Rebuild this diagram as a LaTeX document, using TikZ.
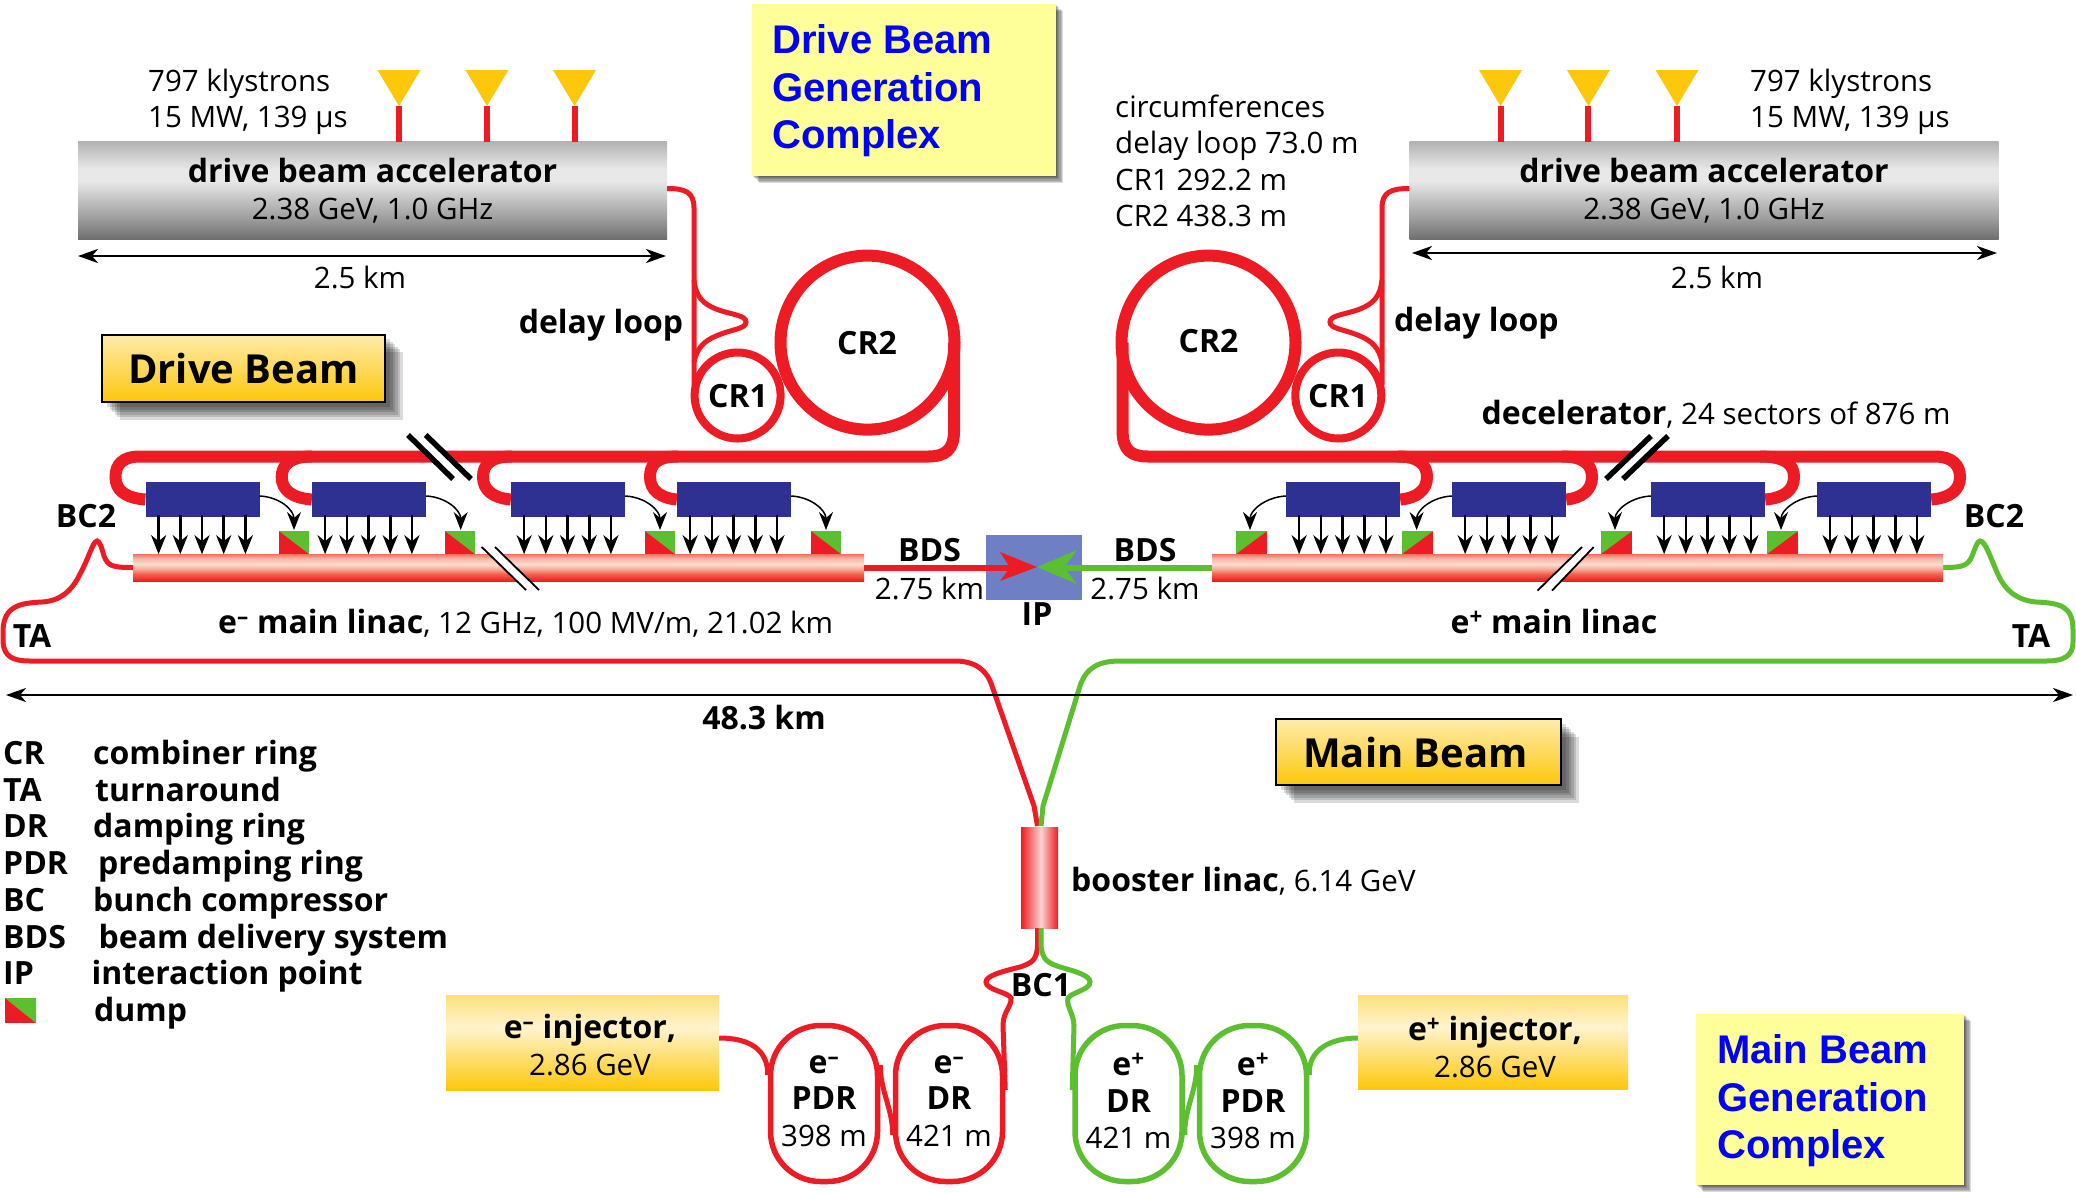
\documentclass[tikz,border=0pt]{standalone}
\usepackage{fontspec}
\setmainfont{Open Sans}
\newfontfamily\labelfont{Liberation Sans}
\usetikzlibrary{arrows.meta,calc}
\definecolor{rd}{HTML}{ED1C24}
\definecolor{gr}{HTML}{5BBF30}
\definecolor{blu}{HTML}{2E3192}
\definecolor{yel}{HTML}{FDC70C}
\definecolor{ipc}{HTML}{6F7FC4}
\definecolor{lab}{HTML}{FFFF99}
\definecolor{linA}{HTML}{F4715D}
\definecolor{linB}{HTML}{F9B4A5}
\definecolor{linC}{HTML}{FBDDD0}
\definecolor{linD}{HTML}{F8A898}
\definecolor{linE}{HTML}{F26050}
\pgfdeclareverticalshading{grayshade}{100bp}{color(0bp)=(black!57); color(25bp)=(black!57); color(36bp)=(black!38); color(55bp)=(black!9); color(61bp)=(black!9); color(75bp)=(black!30); color(100bp)=(black!30)}
\pgfdeclareverticalshading{linacshade}{100bp}{color(0bp)=(rd); color(25bp)=(rd); color(38bp)=(linE); color(47bp)=(linD); color(56bp)=(linC); color(67bp)=(linB); color(75bp)=(linA); color(100bp)=(linA)}
\pgfdeclareverticalshading{injshade}{100bp}{color(0bp)=(yel); color(25bp)=(yel); color(58bp)=(yel!20!white); color(75bp)=(yel!55!white); color(100bp)=(yel!55!white)}
\pgfdeclareverticalshading{tagshade}{100bp}{color(0bp)=(yel); color(25bp)=(yel); color(75bp)=(yel!35!white); color(100bp)=(yel!35!white)}
\pgfdeclarehorizontalshading{boostshade}{100bp}{color(0bp)=(rd); color(25bp)=(rd); color(52bp)=(rd!20!white); color(75bp)=(rd); color(100bp)=(rd)}
\newcommand\softshadow[6]{% x1 y1 x2 y2 offset spread
  \foreach \i in {0,...,5}{
    \fill[black,opacity=.14] ({#1+#5+\i*#6/5},{#2+#5+\i*#6/5}) rectangle ({#3+#5+\i*#6/5},{#4+#5+\i*#6/5});
  }}
\newcommand\eminus{e\textsuperscript{–}}
\newcommand\eplus{e\textsuperscript{+}}
\newcommand\regfont{\fontsize{29.5}{36.5}\selectfont}
\newcommand\boldfont{\fontsize{32}{37}\selectfont\bfseries}
\newcommand\lastline[1]{\raisebox{0pt}[\height][\dimexpr\depth+5pt\relax]{#1}}
\tikzset{
  thinred/.style={draw=rd,line width=5pt},
  thingreen/.style={draw=gr,line width=5pt},
  fatred/.style={draw=rd,line width=12pt},
  stem/.style={draw=rd,line width=6pt},
  antenna/.style={fill=yel,draw=none},
  klys/.style={fill=blu,draw=none,minimum width=114pt,minimum height=35pt,inner sep=0pt},
  bar/.style={shading=linacshade,draw=none,minimum height=27pt,inner sep=0pt},
  accel/.style={shading=grayshade,draw=none,minimum width=589pt,minimum height=98pt,inner sep=0pt,align=center,font=\regfont},
  injector/.style={shading=injshade,draw=none,inner sep=0pt,align=center,font=\regfont},
  tag/.style={shading=tagshade,draw=black,line width=2pt,inner sep=0pt,font=\fontsize{40}{44}\selectfont\bfseries},
  genlabel/.style={fill=lab,draw=none,inner sep=0pt,align=left,anchor=north west,text=blue},
  ring/.style={circle,inner sep=0pt,fill=none},
  stadium/.style={rounded corners=50pt,draw,line width=5.5pt,minimum width=107pt,minimum height=156pt,inner sep=0pt,align=center,font=\regfont},
  txt/.style={inner sep=0pt,font=\regfont},
  btxt/.style={inner sep=0pt,font=\boldfont},
  midc/.style={anchor=mid,yshift=-8.6pt},
  midw/.style={anchor=mid west,yshift=-8.6pt},
  dim/.style={draw=black,line width=2.4pt,{Stealth[length=20pt,width=14pt,inset=6pt]}-{Stealth[length=20pt,width=14pt,inset=6pt]}},
  downarr/.style={draw=black,line width=2.6pt,-{Stealth[length=19pt,width=15pt,inset=6pt]}},
  dumparr/.style={draw=black,line width=1.5pt,-{Stealth[length=18pt,width=14pt,inset=6pt]}},
}
\begin{document}
\begin{tikzpicture}[x=1pt,y=-1pt]
\useasboundingbox (0,0) rectangle (2076,1192);
\fill[white] (0,0) rectangle (2076,1192);

% ---------- generation-complex labels
\softshadow{752}{4}{1056}{176}{1}{6}
\node[genlabel,minimum width=304pt,minimum height=172pt] (gdrive) at (752,4) {};
\node[inner sep=0pt,anchor=west,align=left,text=blue,font=\fontsize{40}{47.5}\selectfont\labelfont\bfseries] (gdrivet) at (772,91) {Drive Beam\\Generation\\Complex};
\softshadow{1696}{1014}{1964}{1185}{1}{6}
\node[genlabel,minimum width=268pt,minimum height=171pt] (gmain) at (1696,1014) {};
\node[inner sep=0pt,anchor=west,align=left,text=blue,font=\fontsize{40}{47.5}\selectfont\labelfont\bfseries] (gmaint) at (1717,1101) {Main Beam\\Generation\\Complex};

% ---------- tags
\softshadow{102}{334}{385}{402}{5}{13}
\node[tag,shading=tagshade,minimum width=283pt,minimum height=67pt] (tagdrive) at (243.5,368) {Drive Beam};
\softshadow{1276}{719}{1561}{785}{5}{13}
\node[tag,minimum width=285pt,minimum height=66pt] (tagmain) at (1418.5,752) {\hspace*{-6pt}Main Beam};

% ---------- drive beam accelerators
\node[accel] (dbaL) at (372.5,190.5) {\textbf{\boldfont drive beam accelerator}\\2.38 GeV, 1.0 GHz};
\node[accel] (dbaR) at (1704,190.5) {\textbf{\boldfont drive beam accelerator}\\2.38 GeV, 1.0 GHz};
\foreach \n/\x in {a/399,b/487,c/574.5,d/1500.5,e/1588.4,f/1677}{
  \coordinate (tip\n) at (\x,106);
  \draw[stem] (tip\n) -- (\x,142);
  \fill[antenna] (\x-21.5,70) -- (\x+21.5,70) -- (tip\n) -- cycle;
}
\node[txt,align=left,anchor=west] (klL) at (148,102) {797 klystrons\\15 MW, 139 µs};
\node[txt,align=left,anchor=west] (klR) at (1750,102) {797 klystrons\\15 MW, 139 µs};
\coordinate (dimLa) at (78,256); \coordinate (dimLb) at (666,256);
\coordinate (dimRa) at (1412,253); \coordinate (dimRb) at (1997,253);
\draw[dim] (dimLa) -- (dimLb);
\draw[dim] (dimRa) -- (dimRb);
\node[txt,midc] (kmL) at (360,277) {2.5 km};
\node[txt,midc] (kmR) at (1717,277) {2.5 km};

% ---------- decelerator klystron blocks
\node[klys] (k1) at (202.5,499.5) {};
\node[klys] (k2) at (369,499.5) {};
\node[klys] (k3) at (568,499.5) {};
\node[klys] (k4) at (734,499.5) {};
\node[klys] (k5) at (1343,499.5) {};
\node[klys] (k6) at (1509,499.5) {};
\node[klys] (k7) at (1708,499.5) {};
\node[klys] (k8) at (1874,499.5) {};

% ---------- left drive-beam line
\draw[thinred] (dbaL.east |- 0,188.5) .. controls (685,188.5) and (694,192) .. (694,208) -- (694,385);
\draw[thinred] (694,280) .. controls (696,298) and (704,304) .. (716,309) .. controls (732,315) and (746,315) .. (746,322) .. controls (746,329) and (732,329) .. (716,336) .. controls (704,341) and (697,348) .. (694,362);
\node[ring,draw=rd,line width=8pt,minimum size=86pt] (cr1L) at (737.6,395.5) {};
\node[ring,draw=rd,line width=12pt,minimum size=174pt] (cr2L) at (867.5,342.6) {};
\draw[fatred] (cr2L.center -| 954,0) -- (954,431) .. controls (954,450) and (945,456.5) .. (928,456.5) -- (140,456.5) .. controls (122,456.5) and (115.5,465) .. (115.5,477) .. controls (115.5,490) and (125,498) .. (k1.west);
\draw[fatred] (312,456.5) .. controls (290,456.5) and (281.7,465) .. (281.7,477) .. controls (281.7,490) and (292,498) .. (k2.west);
\draw[fatred] (512,456.5) .. controls (490,456.5) and (483,465) .. (483,477) .. controls (483,490) and (493,498) .. (k3.west);
\draw[fatred] (678,456.5) .. controls (656,456.5) and (650,465) .. (650,477) .. controls (650,490) and (660,498) .. (k4.west);

% ---------- right drive-beam line
\draw[thinred] (dbaR.west |- 0,188.5) .. controls (1391,188.5) and (1382,192) .. (1382,208) -- (1382,385);
\draw[thinred] (1382,280) .. controls (1380,298) and (1372,304) .. (1360,309) .. controls (1344,315) and (1330,315) .. (1330,322) .. controls (1330,329) and (1344,329) .. (1360,336) .. controls (1372,341) and (1379,348) .. (1382,362);
\node[ring,draw=rd,line width=8pt,minimum size=86pt] (cr1R) at (1338.3,395.5) {};
\node[ring,draw=rd,line width=12pt,minimum size=174pt] (cr2R) at (1208.5,342.6) {};
\draw[fatred] (cr2R.center -| 1122.6,0) -- (1122.6,431) .. controls (1122.6,450) and (1131,456.5) .. (1148,456.5) -- (1935,456.5) .. controls (1952,456.5) and (1960,465) .. (1960,477) .. controls (1960,490) and (1950,498) .. (k8.east);
\draw[fatred] (1760,456.5) .. controls (1786,456.5) and (1794,465) .. (1794,477) .. controls (1794,490) and (1784,498) .. (k7.east);
\draw[fatred] (1562,456.5) .. controls (1584,456.5) and (1592,465) .. (1592,477) .. controls (1592,490) and (1582,498) .. (k6.east);
\draw[fatred] (1398,456.5) .. controls (1419,456.5) and (1427,465) .. (1427,477) .. controls (1427,490) and (1417,498) .. (k5.east);

% ---------- thick break marks
\fill[white] (408,435) -- (425.7,435) -- (471,479) -- (453,479) -- cycle;
\draw[black,line width=5.5pt] (408,435) -- (453,479);
\draw[black,line width=5.5pt] (425.7,435) -- (471,479);
\fill[white] (1651,436) -- (1668,436) -- (1623,479) -- (1606,479) -- cycle;
\draw[black,line width=5.5pt] (1651,436) -- (1606,479);
\draw[black,line width=5.5pt] (1668,436) -- (1623,479);

% ---------- main beam, turnarounds and long transfer lines
\coordinate (mergeR) at (1037.5,826);
\coordinate (mergeG) at (1041,826);
\draw[thinred] (133,567.5) .. controls (112,567.5) and (108,566) .. (104,556) .. controls (102,549) and (100,541) .. (97,541) .. controls (93,541) and (88,560) .. (80,574) .. controls (72,591) and (60,601) .. (42,602) .. controls (20,603) and (4,606) .. (3,630) -- (3,642) .. controls (4,656) and (12,661) .. (30,661) -- (955,661) .. controls (975,661) and (987,670) .. (992,686) -- (1034,806) -- (mergeR);
\draw[thingreen] (1943,567.5) .. controls (1962,567.5) and (1968,566) .. (1972,556) .. controls (1975,549) and (1977,541) .. (1980,541) .. controls (1985,541) and (1990,556) .. (1996,570) .. controls (2004,590) and (2016,600) .. (2036,602) .. controls (2060,603) and (2073,606) .. (2073,630) -- (2073,642) .. controls (2073,656) and (2064,661) .. (2046,661) -- (1120,661) .. controls (1098,661) and (1086,668) .. (1080,686) -- (1043,806) -- (mergeG);

% ---------- linacs
\node[bar,minimum width=731pt] (linL) at (498.5,567.5) {};
\node[bar,minimum width=731pt] (linR) at (1577.5,567.5) {};

% ---------- thin break marks
\fill[white] (481.7,547) -- (495,547) -- (539,590) -- (526,590) -- cycle;
\draw[black,line width=1.8pt] (481.7,547) -- (526,590);
\draw[black,line width=1.8pt] (495,547) -- (539,590);
\fill[white] (1593.7,547) -- (1582,547) -- (1537.5,590.6) -- (1552,590.6) -- cycle;
\draw[black,line width=1.8pt] (1593.7,547) -- (1552,590.6);
\draw[black,line width=1.8pt] (1582,547) -- (1537.5,590.6);

% ---------- power transfer arrows
\foreach \k in {1,...,8}{
  \foreach \i in {0,...,4}{
    \draw[downarr] ($(k\k.south west)+({13.3+21.7*\i},-2)$) -- ($(k\k.south west)+({13.3+21.7*\i},37)$);
  }
}

% ---------- dumps
\foreach \n/\x in {da/279,db/445,dc/645,dd/811}{
  \coordinate (\n) at (\x,531);
  \fill[rd] (\n) rectangle ++(30,23);
  \fill[gr] (\n) -- ++(30,0) -- ++(0,23) -- cycle;
}
\foreach \n/\x in {de/1236,df/1402,dg/1601,dh/1767}{
  \coordinate (\n) at (\x,531);
  \fill[rd] (\n) rectangle ++(31,23);
  \fill[gr] (\n) -- ++(31,0) -- ++(-31,23) -- cycle;
}
\draw[dumparr] (k1.east |- 0,496) .. controls (280,497) and (294,510) .. (294,530);
\draw[dumparr] (k2.east |- 0,496) .. controls (446,497) and (460.7,510) .. (460.7,530);
\draw[dumparr] (k3.east |- 0,496) .. controls (645,497) and (660,510) .. (660,530);
\draw[dumparr] (k4.east |- 0,496) .. controls (811,497) and (826,510) .. (826,530);
\draw[dumparr] (k5.west |- 0,496) .. controls (1266,497) and (1250,510) .. (1250,530);
\draw[dumparr] (k6.west |- 0,496) .. controls (1432,497) and (1416.6,510) .. (1416.6,530);
\draw[dumparr] (k7.west |- 0,496) .. controls (1631,497) and (1615,510) .. (1615,530);
\draw[dumparr] (k8.west |- 0,496) .. controls (1797,497) and (1781,510) .. (1781,530);

% ---------- interaction point
\node[fill=ipc,draw=none,minimum width=96pt,minimum height=65pt,inner sep=0pt] (ipbox) at (1034,567.5) {};
\coordinate (ipc) at (1037,567);
\draw[rd,line width=6pt] (linL.east) -- (1010,567.5);
\fill[rd] (ipc) -- (1000,552) -- (1010,567.5) -- (1000,581) -- cycle;
\draw[gr,line width=6pt] (linR.west) -- (1064,567.5);
\fill[gr] (ipc) -- (1077,550) -- (1064,567.5) -- (1077,584) -- cycle;

% ---------- booster
\node[shading=boostshade,draw=none,minimum width=37pt,minimum height=101pt,inner sep=0pt] (boost) at (1039.5,877.5) {};

% ---------- damping rings and injectors
\node[stadium,draw=rd] (pdrE) at (824,1103.5) {\textbf{\boldfont \eminus}\\\textbf{\boldfont PDR}\\\lastline{398 m}};
\node[stadium,draw=rd] (drE) at (949,1103.5) {\textbf{\boldfont \eminus}\\\textbf{\boldfont DR}\\\lastline{421 m}};
\node[stadium,draw=gr] (drP) at (1128.5,1103.5) {\textbf{\boldfont \eplus}\\\textbf{\boldfont DR}\\\lastline{421 m}};
\node[stadium,draw=gr] (pdrP) at (1253,1103.5) {\textbf{\boldfont \eplus}\\\textbf{\boldfont PDR}\\\lastline{398 m}};
\draw[thinred] (pdrE.east |- 0,1065) .. controls (880,1090) and (893,1110) .. (drE.west |- 0,1135);
\draw[thingreen] (drP.east |- 0,1135) .. controls (1184,1110) and (1197,1090) .. (pdrP.west |- 0,1065);
\draw[thinred] (drE.east |- 0,1090) -- (1003,1025) .. controls (1003,1012) and (1012,1006) .. (1011,998) .. controls (1008,992) and (986,990) .. (986,982) .. controls (986,976) and (1000,972) .. (1020,967) .. controls (1032,963) and (1037,960) .. (1037.5,945) -- (boost.south -| mergeR);
\draw[thingreen] (drP.west |- 0,1090) -- (1074,1025) .. controls (1073,1012) and (1066,1006) .. (1068,998) .. controls (1072,992) and (1090,990) .. (1090,982) .. controls (1090,976) and (1078,972) .. (1060,967) .. controls (1048,963) and (1042,960) .. (1041,945) -- (boost.south -| mergeG);
\node[injector,minimum width=273pt,minimum height=95pt] (injE) at (582.5,1042.5) {};
\node[inner sep=0pt,align=center,font=\regfont] (injEt) at (590,1045) {\textbf{\boldfont \eminus\ injector,}\\2.86 GeV};
\node[injector,minimum width=270pt,minimum height=94pt] (injP) at (1493,1042) {};
\node[inner sep=0pt,align=center,font=\regfont] (injPt) at (1495,1047) {\textbf{\boldfont \eplus\ injector,}\\2.86 GeV};
\draw[thinred] (injE.east |- 0,1038) .. controls (750,1038) and (768,1050) .. (pdrE.west |- 0,1075);
\draw[thingreen] (injP.west |- 0,1038) .. controls (1330,1038) and (1308,1050) .. (pdrP.east |- 0,1075);

% ---------- labels
\node[btxt,midc] (lcr2L) at (867,343) {CR2};
\node[btxt,midc] (lcr1L) at (738,396) {CR1};
\node[btxt,midc] (lcr2R) at (1208.5,341) {CR2};
\node[btxt,midc] (lcr1R) at (1338,396) {CR1};
\node[btxt,midc] (ldlL) at (601,322) {delay loop};
\node[btxt,midw] (ldlR) at (1394,320) {delay loop};
\node[txt,align=left,anchor=west] (circ) at (1115,161) {circumferences\\delay loop 73.0 m\\CR1 292.2 m\\CR2 438.3 m};
\node[txt,midw] (decel) at (1481.5,413) {\textbf{\boldfont decelerator}, 24 sectors of 876 m};
\node[btxt,midc] (lbc2L) at (86,516) {BC2};
\node[btxt,midc] (lbc2R) at (1994,516) {BC2};
\node[btxt,midc] (ltaL) at (32,636) {TA};
\node[btxt,midc] (ltaR) at (2031,636) {TA};
\node[btxt,midc] (lbdsL) at (929.5,550) {BDS};
\node[txt,midc] (lkmL) at (929.5,588) {2.75 km};
\node[btxt,midc] (lbdsR) at (1145,550) {BDS};
\node[txt,midc] (lkmR) at (1145,588) {2.75 km};
\node[btxt,midc] (lip) at (1037,614) {IP};
\node[txt,midw] (lmlE) at (218,622) {\textbf{\boldfont \eminus\ main linac}, 12 GHz, 100 MV/m, 21.02 km};
\node[btxt,midc] (lmlP) at (1554,622) {\eplus\ main linac};
\coordinate (dimAa) at (6,695); \coordinate (dimAb) at (2073,695);
\draw[dim] (dimAa) -- (dimAb);
\node[btxt,midc] (ltot) at (764,718) {48.3 km};
\node[txt,midw] (lboost) at (1071,880) {\textbf{\boldfont booster linac}, 6.14 GeV};
\node[btxt,midc] (lbc1) at (1041,985) {BC1};

% ---------- legend
\foreach \a/\b/\xb/\y in {CR/combiner ring/93/753,TA/turnaround/95/790,DR/damping ring/93/826,PDR/predamping ring/98/863,BC/bunch compressor/93/900,BDS/beam delivery system/98.5/937,IP/interaction point/91.5/973}{
  \node[btxt,midw] at (3,\y) {\a};
  \node[btxt,midw] at (\xb,\y) {\b};
}
\fill[rd] (5,998) rectangle (36,1023);
\fill[gr] (5,998) -- (36,998) -- (36,1023) -- cycle;
\node[btxt,midw] (ldump) at (94,1010) {dump};
\end{tikzpicture}
\end{document}
